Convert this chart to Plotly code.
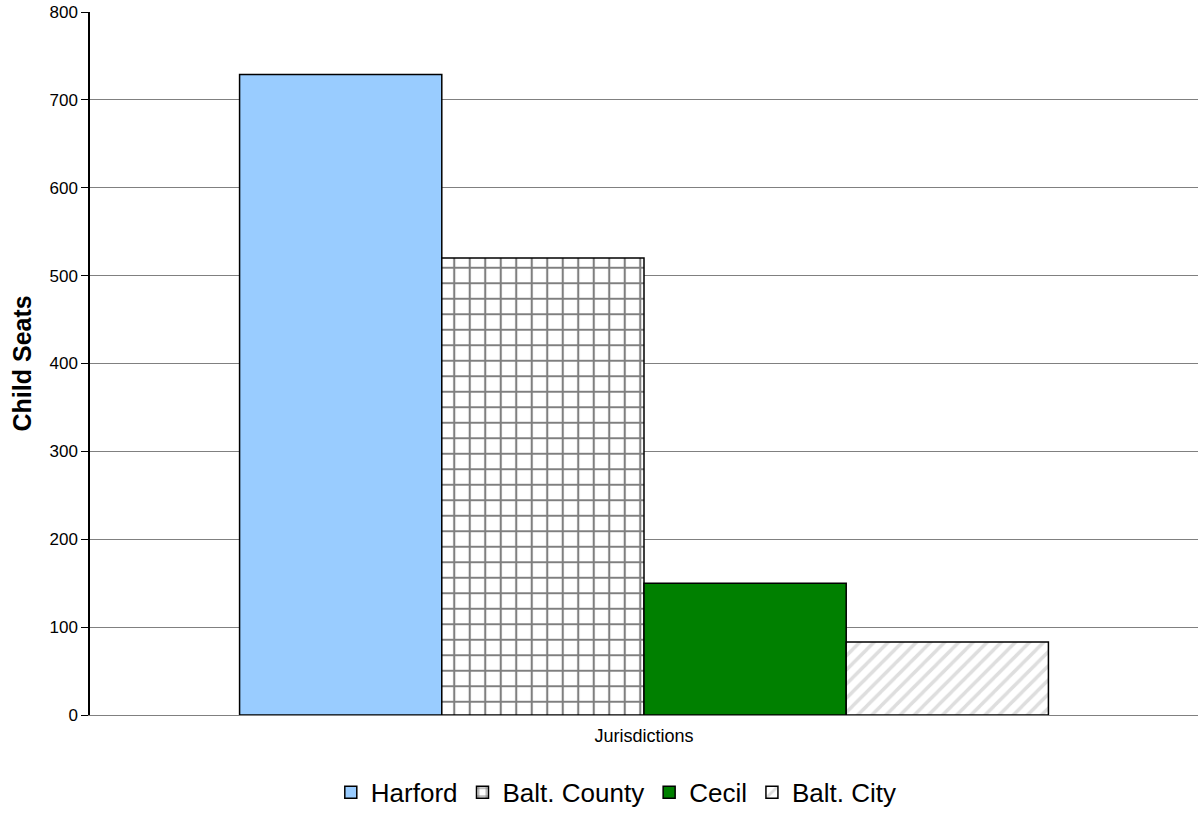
import plotly.graph_objects as go

categories = ["Jurisdictions"]
series_names = ["Harford", "Balt. County", "Cecil", "Balt. City"]
series_values = [[729], [520], [150], [83]]
colors = ["#99CCFF", "#FFFFFF", "#008000", "#FFFFFF"]
patterns = [
    dict(shape=""),
    dict(shape="+", fgcolor="#000000", bgcolor="#FFFFFF", size=15.5, solidity=0.25),
    dict(shape=""),
    dict(shape="/", fgcolor="#BDBDBD", bgcolor="#FFFFFF", size=10, solidity=0.35),
]

fig = go.Figure()
for name, vals, c, p in zip(series_names, series_values, colors, patterns):
    fig.add_trace(go.Bar(
        x=categories, y=vals, name=name,
        marker=dict(color=c, line=dict(color="#000000", width=1.5), pattern=p),
    ))

fig.update_layout(
    width=1198, height=816,
    barmode="group", bargap=0.27, bargroupgap=0,
    plot_bgcolor="#FFFFFF", paper_bgcolor="#FFFFFF",
    margin=dict(l=90, r=0, t=12, b=97),
    font=dict(family="Liberation Sans, Arial", color="#000000"),
    showlegend=True,
    legend=dict(orientation="h", x=0.475, xanchor="center", y=-0.11, yanchor="middle",
                font=dict(size=26), traceorder="normal"),
    xaxis=dict(title=dict(text="Jurisdictions", font=dict(size=18), standoff=14),
               showticklabels=False, ticks="", showline=True, linecolor="#808080",
               linewidth=1, automargin=False),
    yaxis=dict(range=[0, 800], dtick=100, showgrid=True, gridcolor="#808080",
               gridwidth=1, showline=True, linecolor="#000000", linewidth=1.5,
               ticks="outside", ticklen=7, tickcolor="#000000",
               tickfont=dict(size=17), zeroline=False, automargin=False),
    annotations=[dict(text="<b>Child Seats</b>", xref="paper", yref="paper",
                      x=-0.0614, y=0.5, xanchor="center", yanchor="middle",
                      textangle=-90, showarrow=False, font=dict(size=25))],
)

fig.write_html("out.html", config={"displayModeBar": False},
               post_script="document.body.style.margin='0';")
